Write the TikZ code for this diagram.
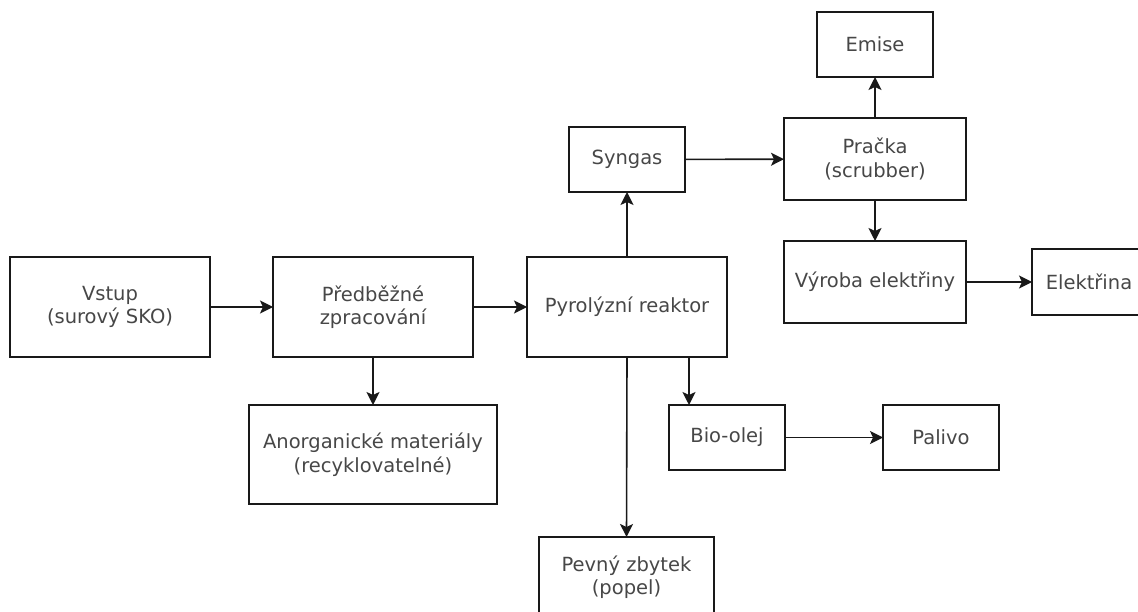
\documentclass[tikz,border=0pt]{standalone}
\usepackage{fontspec}
\setmainfont{DejaVu Sans}
\usetikzlibrary{arrows.meta}
\begin{document}
\begin{tikzpicture}[x=1pt,y=-1pt,
  box/.style={draw=black!90, line width=1.6pt, rectangle, inner sep=0pt, outer sep=0pt,
    align=center, text=black!72, font=\fontsize{19.5}{23.5}\selectfont},
  arr/.style={draw=black!90, line width=1.6pt, -{Stealth[length=13pt,width=13pt,inset=3pt]}}]
\useasboundingbox (0,0) rectangle (1138,612);
\clip (0,0) rectangle (1138,612);
\fill[white] (0,0) rectangle (1138,612);

\node[box, minimum width=200pt, minimum height=100pt] (vstup) at (110,307) {Vstup\\(surový SKO)};
\node[box, minimum width=200pt, minimum height=100pt] (pred) at (373,307) {Předběžné\\zpracování};
\node[box, minimum width=200pt, minimum height=100pt] (pyro) at (627,307) {Pyrolýzní reaktor};
\node[box, minimum width=116pt, minimum height=65pt] (syngas) at (627,159.5) {Syngas};
\node[box, minimum width=182pt, minimum height=82pt] (pracka) at (875,159) {Pračka\\(scrubber)};
\node[box, minimum width=116pt, minimum height=65pt] (emise) at (875,44.5) {Emise};
\node[box, minimum width=182pt, minimum height=82pt] (vyroba) at (875,282) {Výroba elektřiny};
\node[box, minimum width=114pt, minimum height=66pt] (elek) at (1089,282) {Elektřina};
\node[box, minimum width=116pt, minimum height=65pt] (bio) at (727,437.5) {Bio-olej};
\node[box, minimum width=116pt, minimum height=65pt] (palivo) at (941,437.5) {Palivo};
\node[box, minimum width=248pt, minimum height=99pt] (anorg) at (373,454.5) {Anorganické materiály\\(recyklovatelné)};
\node[box, minimum width=175pt, minimum height=80pt] (pevny) at (626.5,577) {Pevný zbytek\\(popel)};

\coordinate (bx) at (689,0);

\draw[arr] (vstup) -- (pred);
\draw[arr] (pred) -- (pyro);
\draw[arr] (pyro) -- (syngas);
\draw[arr] (syngas) -- (pracka);
\draw[arr] (pracka) -- (emise);
\draw[arr] (pracka) -- (vyroba);
\draw[arr] (vyroba) -- (elek);
\draw[arr] (pred) -- (anorg);
\draw[arr] (pyro.south) -- (pevny.north);
\draw[arr] (pyro.south -| bx) -- (bio.north -| bx);
\draw[arr] (bio) -- (palivo);
\end{tikzpicture}
\end{document}
